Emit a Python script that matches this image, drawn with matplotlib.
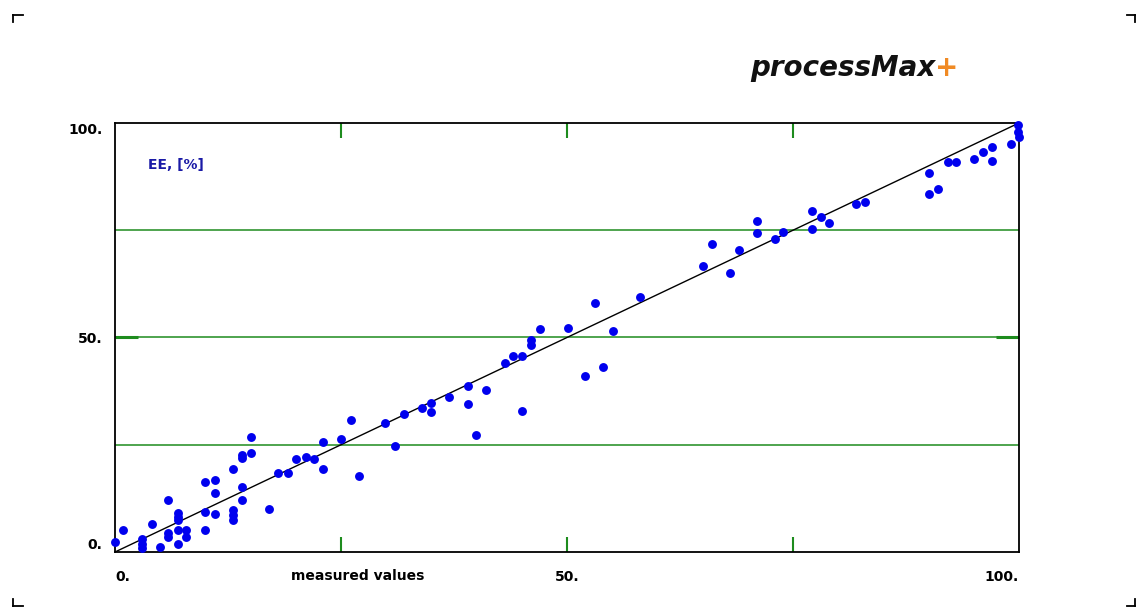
import numpy as np
import matplotlib
matplotlib.use("Agg")
import matplotlib.pyplot as plt
from matplotlib.lines import Line2D

# ---------------------------------------------------------
# DATA
# ---------------------------------------------------------
measured = [
    0.0, 0.9, 3.0, 3.0, 3.0, 4.1, 5.0, 5.9, 5.9, 5.9,
    7.0, 7.0, 7.0, 7.0, 7.0, 7.9, 7.9, 10.0, 10.0, 10.0,
    11.1, 11.1, 11.1, 13.0, 13.0, 13.0, 13.0, 14.0, 14.0, 14.0,
    14.0, 15.0, 15.0, 17.0, 18.0, 19.1, 20.0, 21.1, 22.0, 23.0,
    23.0, 25.0, 26.1, 27.0, 29.9, 31.0, 32.0, 34.0, 35.0, 35.0,
    37.0, 39.0, 39.0, 39.9, 41.0, 43.1, 44.0, 45.0, 45.0, 46.0,
    46.0, 47.0, 50.1, 52.0, 53.1, 54.0, 55.1, 58.1, 65.1, 66.0,
    68.0, 69.0, 71.0, 71.0, 73.0, 73.9, 77.1, 77.1, 78.1, 79.0,
    82.0, 83.0, 90.0, 90.0, 91.0, 92.1, 93.0, 95.0, 96.0, 97.0,
    97.0, 99.1, 99.9, 99.9, 100.0,
]
predicted = [
    2.4, 5.1, 3.0, 1.9, 0.9, 6.5, 1.2, 12.1, 4.5, 3.6,
    9.2, 8.2, 7.5, 5.1, 1.9, 5.1, 3.6, 16.4, 9.4, 5.1,
    16.8, 13.7, 8.8, 19.3, 9.8, 8.6, 7.5, 22.6, 21.8, 15.1,
    12.1, 26.9, 23.0, 10.0, 18.3, 18.3, 21.7, 22.1, 21.7, 25.6,
    19.4, 26.3, 30.8, 17.7, 30.1, 24.6, 32.1, 33.5, 34.8, 32.7,
    36.1, 38.7, 34.4, 27.3, 37.8, 44.0, 45.7, 45.7, 32.9, 49.4,
    48.3, 51.9, 52.3, 41.0, 58.1, 43.1, 51.6, 59.5, 66.7, 71.7,
    65.1, 70.4, 77.2, 74.3, 73.0, 74.7, 79.6, 75.2, 78.2, 76.6,
    81.1, 81.6, 88.4, 83.5, 84.6, 90.8, 90.8, 91.7, 93.3, 94.5,
    91.1, 95.1, 99.5, 98.0, 96.8,
]

x_ticks = [0, 25, 50, 75, 100]
x_tick_labels = ["0.", "", "50.", "", "100."]
y_ticks = [0, 50, 100]
y_tick_labels = ["0.", "50.", "100."]
grid_levels = [25, 50, 75]

GREEN = "#1e8c1e"
BLUE = "#0000ee"

# ---------------------------------------------------------
# FIGUR
# ---------------------------------------------------------
fig = plt.figure(figsize=(11.39, 6.14), dpi=100)
ax = fig.add_axes([0.101, 0.101, 0.7936, 0.6987])

for lvl in grid_levels:
    ax.axhline(lvl, color=GREEN, linewidth=1.1, zorder=1)

# ideal-linje
ax.plot([0, 100], [0, 100], color="black", linewidth=1.0, zorder=2)

ax.plot(measured, predicted, linestyle="none", marker="o", markersize=6.4,
        markeredgewidth=0, color=BLUE, clip_on=False, zorder=3)

ax.set_xlim(0, 100)
ax.set_ylim(0, 100)

for s in ax.spines.values():
    s.set_color("black")
    s.set_linewidth(1.3)

# x-ticks: streger ved 25/50/75 top og bund
ax.set_xticks(x_ticks)
ax.set_xticklabels(x_tick_labels, fontsize=10, fontweight="bold")
ax.tick_params(axis="x", direction="in", length=11, width=1.5, color=GREEN,
               top=True, bottom=True, pad=13)
xt = ax.xaxis.get_major_ticks()
for i in (0, 4):
    xt[i].tick1line.set_visible(False)
    xt[i].tick2line.set_visible(False)
xlabs = ax.get_xticklabels()
xlabs[0].set_ha("left")
xlabs[4].set_ha("right")

# y-ticks: kun 50 har markering
ax.set_yticks(y_ticks)
ax.set_yticklabels(y_tick_labels, fontsize=10, fontweight="bold")
ax.tick_params(axis="y", direction="in", length=16.5, width=2.2, color=GREEN,
               left=True, right=True, pad=9)
yt = ax.yaxis.get_major_ticks()
for i in (0, 2):
    yt[i].tick1line.set_visible(False)
    yt[i].tick2line.set_visible(False)
ylabs = ax.get_yticklabels()
ylabs[0].set_va("bottom")
ylabs[2].set_va("top")

ax.text(0.268, -0.056, "measured values", transform=ax.transAxes,
        ha="center", va="center", fontsize=10, fontweight="bold")
ax.text(0.0365, 0.902, "EE, [%]", transform=ax.transAxes,
        ha="left", va="center", fontsize=10, fontweight="bold", color="#1a1aa6")

# logo
t1 = fig.text(750 / 1139, 1 - 76 / 614, "processMax", fontsize=20,
              fontweight="bold", fontstyle="italic", family="DejaVu Sans",
              va="baseline", ha="left", color="#111111")
fig.canvas.draw()
bb = t1.get_window_extent()
fig.text(bb.x1 / fig.bbox.width, 1 - 76 / 614, "+", fontsize=20,
         fontweight="bold", family="DejaVu Sans", va="baseline", ha="left",
         color="#f08a24")

# hjørnemærker
W, H = 1139, 614
corners = [
    ((13, 23), (15, 15), (13, 13), (15, 22)),
    ((1127, 1135), (15, 15), (1135, 1135), (15, 22)),
    ((13, 23), (606, 606), (13, 13), (599, 606)),
    ((1127, 1135), (606, 606), (1135, 1135), (599, 606)),
]
for hx, hy, vx, vy in corners:
    for xs, ys in ((hx, hy), (vx, vy)):
        fig.add_artist(Line2D([v / W for v in xs], [1 - v / H for v in ys],
                              color="black", linewidth=1.3))

fig.savefig("out.png", dpi=100)
